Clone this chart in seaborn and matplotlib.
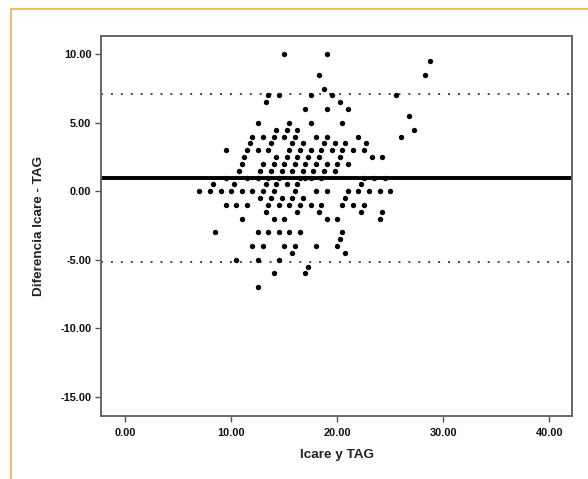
import numpy as np
import pandas as pd
import matplotlib
matplotlib.use('Agg')
import matplotlib.pyplot as plt
import seaborn as sns
from matplotlib.lines import Line2D
from matplotlib.ticker import FormatStrFormatter

# niveles de diferencia (Icare - TAG) y medias (Icare y TAG) de cada fila de puntos
niveles = [10.0, 9.5, 8.5, 7.5, 7.0, 6.5, 6.0, 5.5, 5.0, 4.5, 4.0, 3.5, 3.0, 2.5,
           2.0, 1.5, 1.0, 0.5, 0.0, -0.5, -1.0, -1.5, -2.0, -3.0, -3.5, -4.0,
           -4.5, -5.0, -5.5, -6.0, -7.0]
medias = [
    [15.0, 19.0],
    [28.75],
    [18.25, 28.25],
    [18.75],
    [13.5, 14.5, 17.5, 19.5, 25.5],
    [13.25, 20.25],
    [17.0, 19.0, 21.0],
    [26.75],
    [12.5, 15.5, 17.5, 20.5],
    [14.25, 15.25, 16.25, 27.25],
    [12.0, 13.0, 14.0, 15.0, 16.0, 18.0, 19.0, 22.0, 26.0],
    [11.75, 13.75, 15.75, 16.75, 18.75, 19.75, 20.75, 22.75],
    [9.5, 11.5, 12.5, 13.5, 15.5, 16.5, 17.5, 18.5, 19.5, 20.5, 21.5, 22.5],
    [11.25, 14.25, 15.25, 16.25, 17.25, 18.25, 20.25, 23.25, 24.25],
    [11.0, 13.0, 14.0, 15.0, 16.0, 17.0, 18.0, 19.0, 20.0, 21.0],
    [10.75, 12.75, 13.75, 14.75, 15.75, 16.75, 17.75, 18.75, 19.75],
    [9.5, 11.5, 12.5, 13.5, 14.5, 16.5, 17.0, 17.5, 18.5, 22.5, 23.5, 24.5],
    [8.25, 10.25, 13.25, 14.25, 15.25, 16.25, 22.25],
    [7.0, 8.0, 9.0, 10.0, 11.0, 12.0, 13.0, 14.0, 16.0, 18.0, 19.0, 21.0,
     22.0, 23.0, 24.0, 25.0],
    [12.75, 13.75, 14.75, 15.75, 16.75, 20.75],
    [9.5, 10.5, 11.5, 13.5, 14.5, 15.5, 16.5, 17.5, 18.5, 20.5, 21.5, 22.5],
    [13.25, 16.25, 18.25, 22.25, 24.25],
    [11.0, 14.0, 15.0, 19.0, 20.0, 24.0],
    [8.5, 12.5, 13.5, 14.5, 15.5, 16.5, 20.5],
    [20.25],
    [12.0, 13.0, 15.0, 16.0, 18.0, 20.0],
    [15.75, 20.75],
    [10.5, 12.5, 14.5],
    [17.25],
    [14.0, 17.0],
    [12.5],
]

# media de las diferencias y limites de concordancia
media_dif = 0.97
limite_sup = 7.08
limite_inf = -5.14

x_ticks = [0, 10, 20, 30, 40]
y_ticks = [10, 5, 0, -5, -10, -15]

# armar el DataFrame
filas = []
for nivel, xs in zip(niveles, medias):
    for x in xs:
        filas.append({'Icare y TAG': x, 'Diferencia Icare - TAG': nivel})
data = pd.DataFrame(filas)

sns.set_style('white')
plt.rcParams['font.family'] = ['Liberation Sans', 'DejaVu Sans']

fig = plt.figure(figsize=(5.88, 4.79), dpi=100)
ax = fig.add_axes([0.1718, 0.1315, 0.9733 - 0.1718, 0.9248 - 0.1315])

sns.scatterplot(data=data, x='Icare y TAG', y='Diferencia Icare - TAG', ax=ax,
                color='black', s=15, linewidth=0, zorder=3)

ax.axhline(media_dif, color='black', lw=2.8, zorder=2)
for lim in [limite_sup, limite_inf]:
    ax.axhline(lim, color='#444444', lw=1.4, linestyle=(0, (1, 4.1)), zorder=2)

ax.set_xlim(-2.27, 42.17)
ax.set_ylim(-16.41, 11.34)
ax.set_xticks(x_ticks)
ax.set_yticks(y_ticks)
ax.xaxis.set_major_formatter(FormatStrFormatter('%.2f'))
ax.yaxis.set_major_formatter(FormatStrFormatter('%.2f'))

for s in ax.spines.values():
    s.set_color('#666666')
    s.set_linewidth(1.4)
ax.tick_params(axis='both', direction='out', length=4.3, width=1.0,
               color='#555555', labelsize=7.9, pad=2.6, labelcolor='#111111',
               bottom=True, left=True)
ax.tick_params(axis='x', pad=4)
for lab in ax.get_xticklabels() + ax.get_yticklabels():
    lab.set_fontweight('bold')

ax.set_xlabel('Icare y TAG', fontsize=9.7, fontweight='bold', color='#222222')
ax.set_ylabel('Diferencia Icare - TAG', fontsize=9.7, fontweight='bold', color='#222222')
ax.xaxis.set_label_coords(0.5, -0.087)
ax.yaxis.set_label_coords(-0.119, 0.5)

# marco naranja de la figura
naranja = '#F6B35C'
fig.add_artist(Line2D([11 / 588, 1.0], [1 - 9 / 479, 1 - 9 / 479], color=naranja, lw=1.3))
fig.add_artist(Line2D([11 / 588, 11 / 588], [0.0, 1 - 9 / 479], color=naranja, lw=1.3))

plt.savefig('out.png', dpi=100)
